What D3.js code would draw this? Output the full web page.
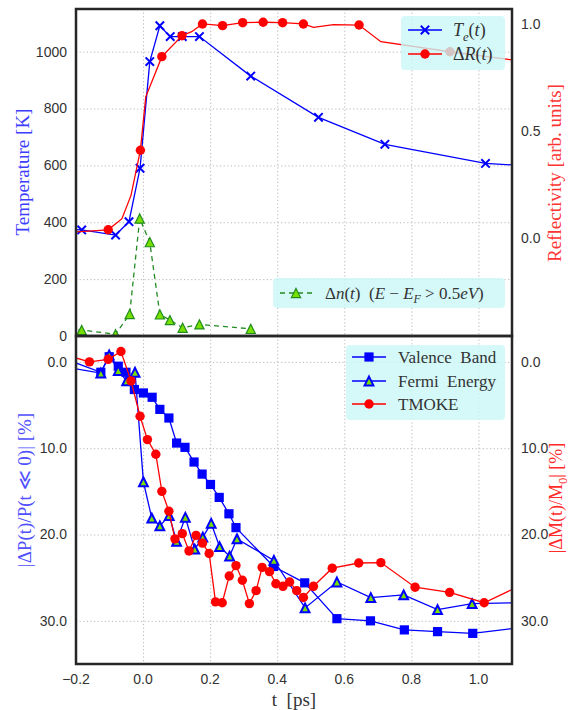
<!DOCTYPE html>
<html>
<head>
<meta charset="utf-8">
<script src="https://cdn.jsdelivr.net/npm/d3@7"></script>
<style>
body { margin: 0; background: #fff; }
text { white-space: pre; }
</style>
</head>
<body>
<script>
// tick values
var x_ticks = [-0.2, 0.0, 0.2, 0.4, 0.6, 0.8, 1.0];
var temp_ticks = [0, 200, 400, 600, 800, 1000];
var refl_ticks = [0.0, 0.5, 1.0];
var change_ticks = [0, 10, 20, 30];

// top panel: electron temperature T_e(t) [K]
var te_time  = [-0.22, -0.183, -0.082, -0.042, -0.009, 0.020, 0.050, 0.081, 0.117, 0.168, 0.321, 0.523, 0.721, 1.021, 1.20];
var te_value = [375, 373, 355, 402, 590, 965, 1091, 1053, 1053, 1053, 914, 769, 674, 607, 595];

// top panel: excited electrons dn(t), plotted on the temperature axis
var dn_time  = [-0.22, -0.183, -0.082, -0.040, -0.010, 0.020, 0.050, 0.080, 0.118, 0.168, 0.321];
var dn_value = [22, 21, 6, 77, 413, 330, 76, 56, 29, 41, 25];

// top panel: reflectivity dR(t) [arb. units]; only some vertices carry a marker
var dr_time   = [-0.22, -0.104, -0.063, -0.036, -0.008, 0.008, 0.056, 0.116, 0.145, 0.177, 0.237, 0.297, 0.358, 0.416, 0.478, 0.508, 0.568, 0.644, 0.709, 0.915, 1.12];
var dr_value  = [0.025, 0.037, 0.089, 0.198, 0.409, 0.659, 0.847, 0.945, 0.964, 1.000, 0.992, 1.006, 1.008, 1.006, 1.000, 0.984, 0.997, 0.995, 0.917, 0.870, 0.828];
var dr_marked = [0, 1, 0, 0, 1, 0, 1, 1, 0, 1, 1, 1, 1, 1, 1, 0, 0, 1, 0, 1, 0];

// bottom panel: |dP/P| valence band [%]
var vb_time  = [-0.23, -0.126, -0.101, -0.074, -0.051, -0.026, 0.001, 0.027, 0.050, 0.077, 0.100, 0.125, 0.152, 0.176, 0.201, 0.227, 0.256, 0.277, 0.389, 0.482, 0.578, 0.678, 0.779, 0.878, 0.983, 1.12];
var vb_value = [-0.3, 1.2, -0.6, 0.5, 1.2, 3.2, 3.6, 4.1, 5.5, 6.5, 9.4, 9.9, 11.6, 13.0, 14.2, 15.7, 17.6, 19.2, 23.7, 25.6, 29.75, 30.0, 31.05, 31.25, 31.45, 30.8];

// bottom panel: |dP/P| Fermi energy [%]
var fe_time  = [-0.23, -0.126, -0.101, -0.074, -0.049, -0.024, 0.001, 0.026, 0.050, 0.078, 0.100, 0.126, 0.154, 0.178, 0.203, 0.228, 0.258, 0.280, 0.390, 0.483, 0.578, 0.679, 0.777, 0.878, 0.981, 1.12];
var fe_value = [0.6, 1.3, -0.8, 1.0, 2.2, 1.2, 13.9, 18.1, 19.0, 17.8, 20.8, 18.0, 21.7, 20.3, 18.7, 21.4, 22.5, 20.5, 23.0, 28.5, 25.5, 27.3, 27.0, 28.7, 28.0, 27.9];

// bottom panel: |dM/M0| TMOKE [%]
var tm_time  = [-0.23, -0.160, -0.104, -0.066, -0.036, -0.009, 0.013, 0.038, 0.056, 0.077, 0.095, 0.117, 0.137, 0.158, 0.177, 0.197, 0.216, 0.236, 0.257, 0.277, 0.296, 0.317, 0.337, 0.355, 0.377, 0.396, 0.417, 0.437, 0.458, 0.478, 0.508, 0.564, 0.643, 0.709, 0.811, 0.914, 1.017, 1.12];
var tm_value = [-0.8, 0.0, -0.3, -1.2, 2.2, 6.3, 9.0, 10.7, 15.0, 17.3, 20.5, 19.9, 21.9, 20.1, 21.0, 22.2, 27.8, 27.9, 24.8, 23.6, 25.3, 28.0, 26.5, 23.8, 24.3, 25.7, 26.0, 25.5, 26.5, 27.3, 26.0, 23.9, 23.3, 23.25, 26.1, 26.7, 27.9, 26.0];

var width = 571, height = 710;
var left = 76, right = 512, top1 = 9, mid = 336, bot2 = 664;

var blue = "#0000ff", red = "#ff0000", green = "#228b22", lime = "#77e000";
var tick_font = "'Liberation Sans', Arial, sans-serif";
var serif = "'Liberation Serif', 'DejaVu Serif', serif";

var x = d3.scaleLinear().domain([-0.2, 1.1]).range([left, right]);
var y_temp = d3.scaleLinear().domain([0, 1150]).range([mid, top1]);
var y_refl = d3.scaleLinear().domain([-0.46, 1.07]).range([mid, top1]);
var y_change = d3.scaleLinear().domain([-3, 35]).range([mid, bot2]);

var svg = d3.select("body").append("svg")
  .attr("width", width).attr("height", height);

var defs = svg.append("defs");
defs.append("clipPath").attr("id", "clip-top").append("rect")
  .attr("x", left).attr("y", top1).attr("width", right - left).attr("height", mid - top1);
defs.append("clipPath").attr("id", "clip-bot").append("rect")
  .attr("x", left).attr("y", mid).attr("width", right - left).attr("height", bot2 - mid);

function zip(ts, vs) {
  return ts.map(function(t, i) { return { t: t, v: vs[i], i: i }; });
}

function grid(g, y, yticks, y0, y1) {
  g.append("g").attr("transform", "translate(0," + y1 + ")")
    .call(d3.axisBottom(x).tickValues(x_ticks).tickSize(y0 - y1).tickFormat(""))
    .call(function(a) { a.select(".domain").remove(); });
  g.append("g").attr("transform", "translate(" + left + ",0)")
    .call(d3.axisLeft(y).tickValues(yticks).tickSize(-(right - left)).tickFormat(""))
    .call(function(a) { a.select(".domain").remove(); });
  g.selectAll(".tick line")
    .attr("stroke", "#b8b8b8").attr("stroke-width", 1)
    .attr("stroke-dasharray", "1.2,2.4");
}

function line(g, d, y, color, dash) {
  g.append("path").datum(d)
    .attr("d", d3.line().x(function(p) { return x(p.t); }).y(function(p) { return y(p.v); }))
    .attr("fill", "none").attr("stroke", color).attr("stroke-width", 1.3)
    .attr("stroke-dasharray", dash || null);
}

function in_view(p) { return p.t >= -0.2 && p.t <= 1.1; }

function cross_path(r) {
  return "M" + (-r) + "," + (-r) + "L" + r + "," + r + "M" + (-r) + "," + r + "L" + r + "," + (-r);
}
function triangle_path(r) {
  return "M0," + (-r) + "L" + r + "," + r + "L" + (-r) + "," + r + "Z";
}

function markers(g, d, y, kind) {
  var sel = g.selectAll(null).data(d.filter(in_view)).enter();
  var pos = function(p) { return "translate(" + x(p.t) + "," + y(p.v) + ")"; };
  draw_marker(sel, kind, pos);
}

function draw_marker(sel, kind, pos) {
  if (kind === "cross") {
    sel.append("path").attr("transform", pos).attr("d", cross_path(4.2))
      .attr("stroke", blue).attr("stroke-width", 2).attr("fill", "none");
  } else if (kind === "circle") {
    sel.append("circle").attr("transform", pos).attr("r", 4.7).attr("fill", red);
  } else if (kind === "square") {
    sel.append("rect").attr("transform", pos)
      .attr("x", -4.6).attr("y", -4.6).attr("width", 9.2).attr("height", 9.2)
      .attr("fill", blue);
  } else if (kind === "tri_green") {
    sel.append("path").attr("transform", pos).attr("d", triangle_path(4.6))
      .attr("fill", lime).attr("stroke", green).attr("stroke-width", 1.2);
  } else if (kind === "tri_blue") {
    sel.append("path").attr("transform", pos).attr("d", triangle_path(4.4))
      .attr("fill", lime).attr("stroke", blue).attr("stroke-width", 2);
  }
}

function rich(sel, parts, size) {
  var shift = 0;
  parts.forEach(function(p) {
    var want = p.sub ? size * 0.28 : 0;
    var ts = sel.append("tspan").text(p.s);
    if (want - shift !== 0) ts.attr("dy", want - shift);
    shift = want;
    if (p.i) ts.attr("font-style", "italic");
    if (p.sub) ts.attr("font-size", size * 0.7);
  });
}

function legend(g, x0, y0, w, h, entries, size) {
  g.append("rect").attr("x", x0).attr("y", y0).attr("width", w).attr("height", h)
    .attr("rx", 4).attr("fill", "#cbf8f8").attr("fill-opacity", 0.8);
  entries.forEach(function(e) {
    g.append("line").attr("x1", e.x1).attr("x2", e.x2).attr("y1", e.y).attr("y2", e.y)
      .attr("stroke", e.color).attr("stroke-width", 1.3)
      .attr("stroke-dasharray", e.dash || null);
    var one = g.selectAll(null).data([0]).enter();
    draw_marker(one, e.marker, "translate(" + ((e.x1 + e.x2) / 2) + "," + e.y + ")");
    var t = g.append("text").attr("x", e.tx).attr("y", e.y).attr("dy", "0.33em")
      .attr("font-family", serif).attr("font-size", size).attr("fill", "#333");
    rich(t, e.parts, size);
  });
}

// ---------- top panel ----------
var topg = svg.append("g");
grid(topg, y_temp, temp_ticks, mid, top1);
var top_plot = topg.append("g").attr("clip-path", "url(#clip-top)");
var te = zip(te_time, te_value), dn = zip(dn_time, dn_value), dr = zip(dr_time, dr_value);
line(top_plot, dn, y_temp, green, "5,4");
markers(top_plot, dn, y_temp, "tri_green");
line(top_plot, te, y_temp, blue);
markers(top_plot, te, y_temp, "cross");
line(top_plot, dr, y_refl, red);
markers(top_plot, dr.filter(function(p) { return dr_marked[p.i]; }), y_refl, "circle");

legend(topg, 401, 16, 104, 54, [
  { x1: 408, x2: 442, y: 30, tx: 453, color: blue, marker: "cross",
    parts: [{ s: "T", i: 1 }, { s: "e", i: 1, sub: 1 }, { s: "(" }, { s: "t", i: 1 }, { s: ")" }] },
  { x1: 408, x2: 442, y: 54, tx: 453, color: red, marker: "circle",
    parts: [{ s: "Δ" }, { s: "R", i: 1 }, { s: "(" }, { s: "t", i: 1 }, { s: ")" }] }
], 18);

legend(topg, 273, 278, 232, 30, [
  { x1: 280, x2: 312, y: 293, tx: 325, color: green, marker: "tri_green", dash: "5,4",
    parts: [{ s: "Δ" }, { s: "n", i: 1 }, { s: "(" }, { s: "t", i: 1 }, { s: ")  (" },
            { s: "E", i: 1 }, { s: " − " }, { s: "E", i: 1 }, { s: "F", i: 1, sub: 1 },
            { s: " > 0.5" }, { s: "eV", i: 1 }, { s: ")" }] }
], 17);

// ---------- bottom panel ----------
var botg = svg.append("g");
grid(botg, y_change, change_ticks, bot2, mid);
var bot_plot = botg.append("g").attr("clip-path", "url(#clip-bot)");
var vb = zip(vb_time, vb_value), fe = zip(fe_time, fe_value), tm = zip(tm_time, tm_value);
line(bot_plot, vb, y_change, blue);
markers(bot_plot, vb, y_change, "square");
line(bot_plot, fe, y_change, blue);
markers(bot_plot, fe, y_change, "tri_blue");
line(bot_plot, tm, y_change, red);
markers(bot_plot, tm, y_change, "circle");

legend(botg, 346, 345, 159, 75, [
  { x1: 352, x2: 386, y: 357, tx: 398, color: blue, marker: "square", parts: [{ s: "Valence  Band" }] },
  { x1: 352, x2: 386, y: 381, tx: 398, color: blue, marker: "tri_blue", parts: [{ s: "Fermi  Energy" }] },
  { x1: 352, x2: 386, y: 404, tx: 398, color: red, marker: "circle", parts: [{ s: "TMOKE" }] }
], 17);

// ---------- frames ----------
[[top1, mid], [mid, bot2]].forEach(function(r) {
  svg.append("rect").attr("x", left).attr("y", r[0]).attr("width", right - left).attr("height", r[1] - r[0])
    .attr("fill", "none").attr("stroke", "#262626").attr("stroke-width", 2.5);
});

// ---------- tick labels ----------
function tick_labels(ticks, xpos, ypos, anchor, fmt) {
  svg.append("g").selectAll("text").data(ticks).enter().append("text")
    .attr("x", xpos).attr("y", ypos).attr("dy", "0.35em")
    .attr("text-anchor", anchor)
    .attr("font-family", tick_font).attr("font-size", 14).attr("fill", "#333")
    .text(fmt);
}
var fmt1 = function(d) { return d3.format(".1f")(d).replace("-", "−"); };
tick_labels(temp_ticks, 67, function(d) { return y_temp(d); }, "end", d3.format("d"));
tick_labels(refl_ticks, 521, function(d) { return y_refl(d); }, "start", fmt1);
tick_labels(change_ticks, 67, function(d) { return y_change(d); }, "end", fmt1);
tick_labels(change_ticks, 521, function(d) { return y_change(d); }, "start", fmt1);
tick_labels(x_ticks, function(d) { return x(d); }, 679, "middle", fmt1);

// ---------- axis titles ----------
function title(xc, yc, rot, color, parts, size) {
  var t = svg.append("text")
    .attr("transform", "translate(" + xc + "," + yc + ") rotate(" + rot + ")")
    .attr("text-anchor", "middle").attr("dy", "0.35em")
    .attr("font-family", serif).attr("font-size", size).attr("fill", color);
  rich(t, parts, size);
}
title(22, 172, -90, "#3c3cff", [{ s: "Temperature [K]" }], 19);
title(554, 173, -90, "#ff3434", [{ s: "Reflectivity [arb. units]" }], 19);
title(24, 490, -90, "#5050ff", [{ s: "|ΔP(t)/P(t ≪ 0)| [%]" }], 19);
title(556, 498, -90, "#ff2a2a", [{ s: "|ΔM(t)/M" }, { s: "0", sub: 1 }, { s: "| [%]" }], 18);
title(294, 699, 0, "#333", [{ s: "t  [ps]" }], 19);
</script>
</body>
</html>
